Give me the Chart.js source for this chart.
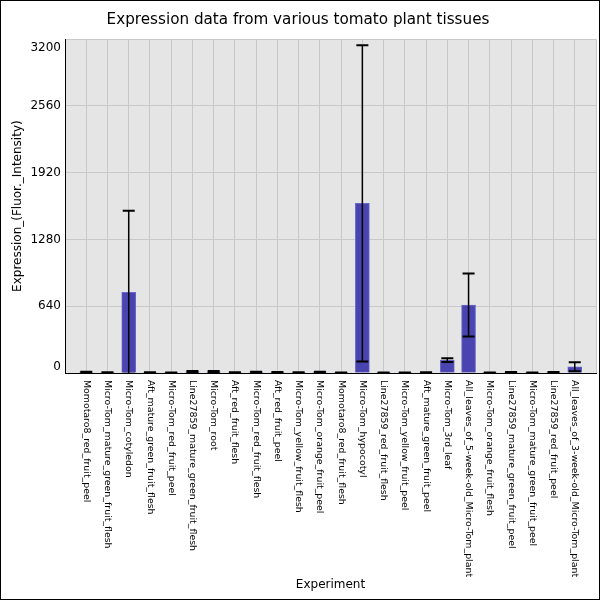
<meta charset="utf8"/>
<style>body{margin:0;background:#fff;} #wrap{width:600px;height:600px;}</style>
<div id="wrap"><canvas id="_c" width="600" height="600"></canvas></div>
<script src="https://cdn.jsdelivr.net/npm/chart.js"></script>
<script>
const experiments = [
	'Momotaro8_red_fruit_peel', 'Micro-Tom_mature_green_fruit_flesh', 'Micro-Tom_cotyledon',
	'Aft_mature_green_fruit_flesh', 'Micro-Tom_red_fruit_peel', 'Line27859_mature_green_fruit_flesh',
	'Micro-Tom_root', 'Aft_red_fruit_flesh', 'Micro-Tom_red_fruit_flesh', 'Aft_red_fruit_peel',
	'Micro-Tom_yellow_fruit_flesh', 'Micro-Tom_orange_fruit_peel', 'Momotaro8_red_fruit_flesh',
	'Micro-Tom_hypocotyl', 'Line27859_red_fruit_flesh', 'Micro-Tom_yellow_fruit_peel',
	'Aft_mature_green_fruit_peel', 'Micro-Tom_3rd_leaf', 'All_leaves_of_5-week-old_Micro-Tom_plant',
	'Micro-Tom_orange_fruit_flesh', 'Line27859_mature_green_fruit_peel', 'Micro-Tom_mature_green_fruit_peel',
	'Line27859_red_fruit_peel', 'All_leaves_of_3-week-old_Micro-Tom_plant'
];
const expression = [8, 4, 774, 4, 3, 12, 12, 5, 8, 6, 4, 8, 3, 1626, 3, 3, 5, 123, 651, 3, 6, 3, 6, 60];
const errors     = [4, 3, 781, 3, 2, 6, 6, 3, 4, 3, 3, 4, 2, 1516, 2, 2, 3, 18, 302, 2, 3, 2, 3, 44];
const yTicks = [0, 640, 1280, 1920, 2560, 3200];

const FONT = 'DejaVu Sans';

const frame = {
	id: 'frame',
	beforeDraw(c) {
		const {ctx, chartArea: a} = c;
		ctx.save();
		ctx.fillStyle = '#fff';
		ctx.fillRect(0, 0, c.width, c.height);
		ctx.fillStyle = '#e5e5e5';
		ctx.fillRect(a.left, a.top, a.right - a.left, a.bottom - a.top);
		ctx.restore();
	},
	afterDraw(c) {
		const {ctx, chartArea: a, scales: {x, y}} = c;
		ctx.save();
		// y labels, kept inside the plot height like the original
		ctx.font = '12px "' + FONT + '"';
		ctx.fillStyle = '#000';
		ctx.textAlign = 'right';
		ctx.textBaseline = 'middle';
		yTicks.forEach(v => {
			let py = y.getPixelForValue(v);
			py = Math.min(Math.max(py, a.top + 9), a.bottom - 6);
			ctx.fillText(v, a.left - 4, py);
		});
		// x labels, rotated clockwise
		ctx.font = '9.4px "' + FONT + '"';
		ctx.textAlign = 'left';
		experiments.forEach((t, i) => {
			ctx.save();
			ctx.translate(x.getPixelForValue(i), a.bottom + 7);
			ctx.rotate(Math.PI / 2);
			ctx.fillText(t, 0, 0);
			ctx.restore();
		});
		ctx.strokeStyle = '#000';
		ctx.lineWidth = 1;
		ctx.strokeRect(0.5, 0.5, c.width - 1, c.height - 1);
		ctx.restore();
	}
};

const errorBars = {
	id: 'errorBars',
	afterDatasetsDraw(c) {
		const {ctx, chartArea: a, scales: {x, y}} = c;
		ctx.save();
		ctx.beginPath();
		ctx.rect(a.left, a.top, a.right - a.left, a.bottom - a.top);
		ctx.clip();
		ctx.strokeStyle = '#000';
		expression.forEach((v, i) => {
			const px = x.getPixelForValue(i);
			const hi = y.getPixelForValue(v + errors[i]);
			const lo = y.getPixelForValue(v - errors[i]);
			ctx.lineWidth = 1.5;
			ctx.beginPath();
			ctx.moveTo(px, lo);
			ctx.lineTo(px, hi);
			ctx.stroke();
			ctx.lineWidth = 2;
			ctx.beginPath();
			ctx.moveTo(px - 6, hi); ctx.lineTo(px + 6, hi);
			ctx.moveTo(px - 6, lo); ctx.lineTo(px + 6, lo);
			ctx.stroke();
		});
		ctx.restore();
	}
};

new Chart(_c, {
	type: 'bar',
	data: {
		datasets: [{
			data: expression.map((v, i) => ({x: i, y: v})),
			backgroundColor: '#4a44b0',
			borderColor: '#6b67c9',
			borderWidth: 1,
			barThickness: 14,
		}]
	},
	options: {
		responsive: false,
		animation: false,
		layout: {padding: {left: 0, right: 4, top: 0, bottom: 0}},
		scales: {
			x: {
				type: 'linear',
				min: -1,
				max: 24,
				offset: false,
				afterFit: s => { s.height = 227; },
				grid: {color: '#c8c8c8', drawTicks: false, offset: false},
				border: {color: '#000', width: 1},
				ticks: {stepSize: 1, autoSkip: false, display: false},
				title: {
					display: true,
					text: 'Experiment',
					color: '#000',
					font: {family: FONT, size: 12},
					padding: {top: 4, bottom: 8}
				}
			},
			y: {
				min: 0,
				max: 3200,
				afterFit: s => { s.width = 65; },
				grid: {color: '#c8c8c8', drawTicks: false},
				border: {color: '#000', width: 1},
				ticks: {stepSize: 640, display: false},
				title: {
					display: true,
					text: 'Expression_(Fluor._Intensity)',
					color: '#000',
					font: {family: FONT, size: 12},
					padding: {top: 11, bottom: 4}
				}
			}
		},
		plugins: {
			legend: {display: false},
			tooltip: {enabled: false},
			title: {
				display: true,
				text: 'Expression data from various tomato plant tissues',
				color: '#000',
				font: {family: FONT, size: 15.2, weight: 'normal'},
				padding: {top: 11, bottom: 10}
			}
		}
	},
	plugins: [frame, errorBars]
});
</script>
